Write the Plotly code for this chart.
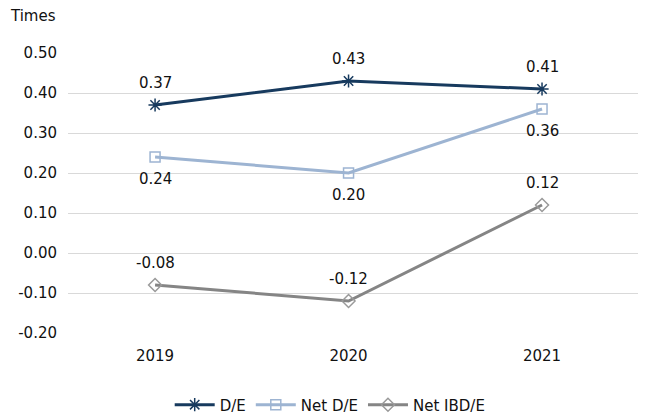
import plotly.graph_objects as go

years = ["2019", "2020", "2021"]
de = [0.37, 0.43, 0.41]
net_de = [0.24, 0.20, 0.36]
net_ibd_e = [-0.08, -0.12, 0.12]
y_ticks = [0.5, 0.4, 0.3, 0.2, 0.1, 0.0, -0.1, -0.2]
y_tick_text = [f"{v:.2f}" for v in y_ticks]

FONT = "DejaVu Sans"
TEXT = "#111111"
x_pos = list(range(len(years)))

series = [
    ("D/E", de, "#173a5e", "asterisk-open", 11, "#173a5e", 22),
    ("Net D/E", net_de, "#9db4d2", "square-open", 10, "#9db4d2", -22),
    ("Net IBD/E", net_ibd_e, "#858585", "diamond-open", 10, "#9a9a9a", 22),
]

fig = go.Figure()
annotations = []
for name, vals, color, symbol, msize, mcolor, shift in series:
    fig.add_trace(go.Scatter(
        x=x_pos, y=vals, name=name, mode="lines+markers",
        line=dict(color=color, width=3),
        marker=dict(symbol=symbol, size=msize, color=mcolor,
                    line=dict(color=mcolor, width=1.5)),
    ))
    for xi, v in zip(x_pos, vals):
        annotations.append(dict(
            x=xi, y=v, xref="x", yref="y", text=f"{v:.2f}",
            showarrow=False, yshift=shift,
            font=dict(family=FONT, size=15, color=TEXT),
        ))

annotations.append(dict(
    x=0, y=1, xref="paper", yref="paper", xanchor="left", yanchor="top",
    text="Times", showarrow=False, xshift=-60, yshift=48,
    font=dict(family=FONT, size=15, color=TEXT),
))

fig.update_layout(
    width=645, height=416,
    margin=dict(l=68, r=7, t=53, b=83, autoexpand=False),
    paper_bgcolor="white", plot_bgcolor="white",
    font=dict(family=FONT, size=15, color=TEXT),
    showlegend=True,
    legend=dict(orientation="h", x=0.46, xanchor="center",
                y=-0.257, yanchor="middle",
                font=dict(family=FONT, size=15, color=TEXT),
                itemwidth=40, tracegroupgap=0),
    annotations=annotations,
    xaxis=dict(range=[-0.45, 2.496], tickmode="array", tickvals=x_pos,
               ticktext=years, showgrid=False, zeroline=False, showline=False,
               ticks="", ticklabelstandoff=12),
    yaxis=dict(range=[-0.2, 0.5], tickmode="array", tickvals=y_ticks,
               ticktext=y_tick_text, showgrid=True, gridcolor="#d9d9d9",
               gridwidth=1, zeroline=False, showline=False, ticks="",
               ticklabelstandoff=10),
)

fig.write_html("out.html")
